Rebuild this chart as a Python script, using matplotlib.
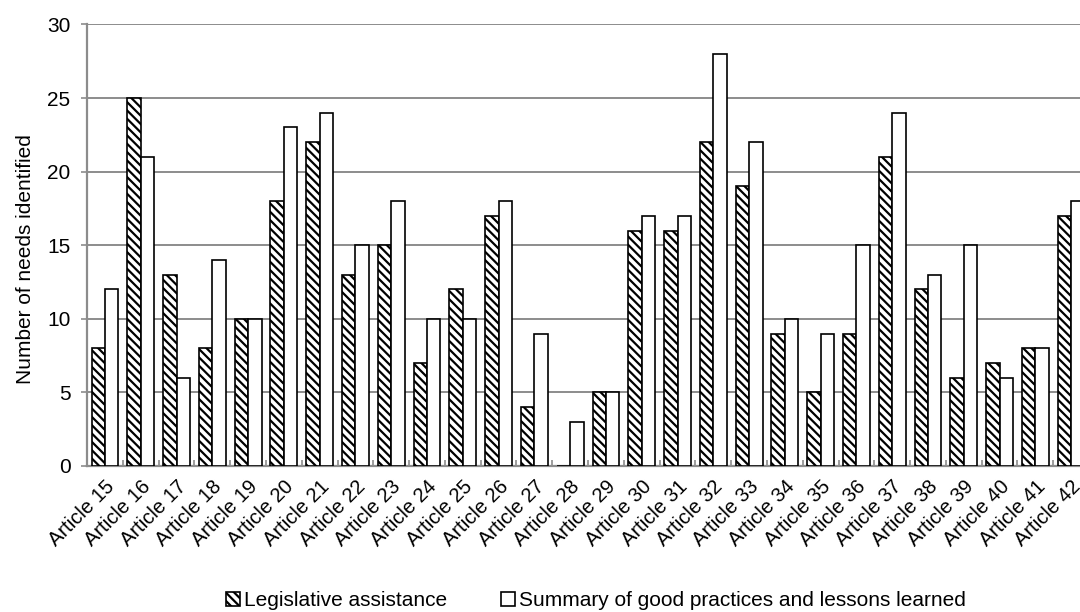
import numpy as np
import matplotlib
matplotlib.use('Agg')
from matplotlib import pyplot as plt

# article labels and counts
articles = ['Article %d' % n for n in range(15, 43)]
legislative = [8, 25, 13, 8, 10, 18, 22, 13, 15, 7, 12, 17, 4, 0, 5,
               16, 16, 22, 19, 9, 5, 9, 21, 12, 6, 7, 8, 17]
good_practices = [12, 21, 6, 14, 10, 23, 24, 15, 18, 10, 10, 18, 9, 3, 5,
                  17, 17, 28, 22, 10, 9, 15, 24, 13, 15, 6, 8, 18]
yticks = [0, 5, 10, 15, 20, 25, 30]

plt.rcParams['font.family'] = ['Liberation Sans', 'DejaVu Sans']
plt.rcParams['hatch.linewidth'] = 1.6
plt.rcParams['hatch.color'] = 'black'

grey = '#8c8c8c'
fs = 15

fig = plt.figure(figsize=(10.8, 6.12), dpi=100)
# the plot area runs a little past the right edge, as in the original
ax = fig.add_axes([0.0806, 0.2386, 0.9278, 0.7214])

x = np.arange(len(articles))
w = 0.375
ax.bar(x - w / 2, legislative, w, facecolor='white', edgecolor='black',
       linewidth=1.2, hatch='\\\\\\\\', label='Legislative assistance', zorder=3)
ax.bar(x + w / 2, good_practices, w, facecolor='white', edgecolor='black',
       linewidth=1.2, label='Summary of good practices and lessons learned', zorder=3)

ax.set_xlim(-0.5, len(articles) - 0.5)
ax.set_ylim(0, 30)
ax.set_yticks(yticks)
ax.yaxis.grid(True, color=grey, linewidth=1.4, zorder=0)
ax.set_axisbelow(True)

for side in ['top', 'right']:
    ax.spines[side].set_visible(False)
for side in ['left', 'bottom']:
    ax.spines[side].set_color(grey)
    ax.spines[side].set_linewidth(1.6)

ax.tick_params(axis='y', length=4, width=1.2, color=grey, pad=8, labelsize=fs)
ax.set_xticks(x)
ax.set_xticklabels(articles, rotation=45, ha='right', rotation_mode='anchor', fontsize=14.5)
ax.tick_params(axis='x', which='major', length=0, pad=8)
ax.set_xticks(np.arange(0.5, len(articles) - 0.5, 1), minor=True)
ax.tick_params(axis='x', which='minor', direction='in', length=4, width=1.2, color=grey)

ax.set_ylabel('Number of needs identified', fontsize=fs)
ax.yaxis.set_label_coords(-0.052, 0.469)

ax.legend(loc='center', bbox_to_anchor=(0.552, 0.018), bbox_transform=fig.transFigure,
          ncol=2, frameon=False, fontsize=fs, handlelength=0.65, handleheight=0.65,
          handletextpad=0.2, columnspacing=2.6)

fig.savefig('out.png', dpi=100)
